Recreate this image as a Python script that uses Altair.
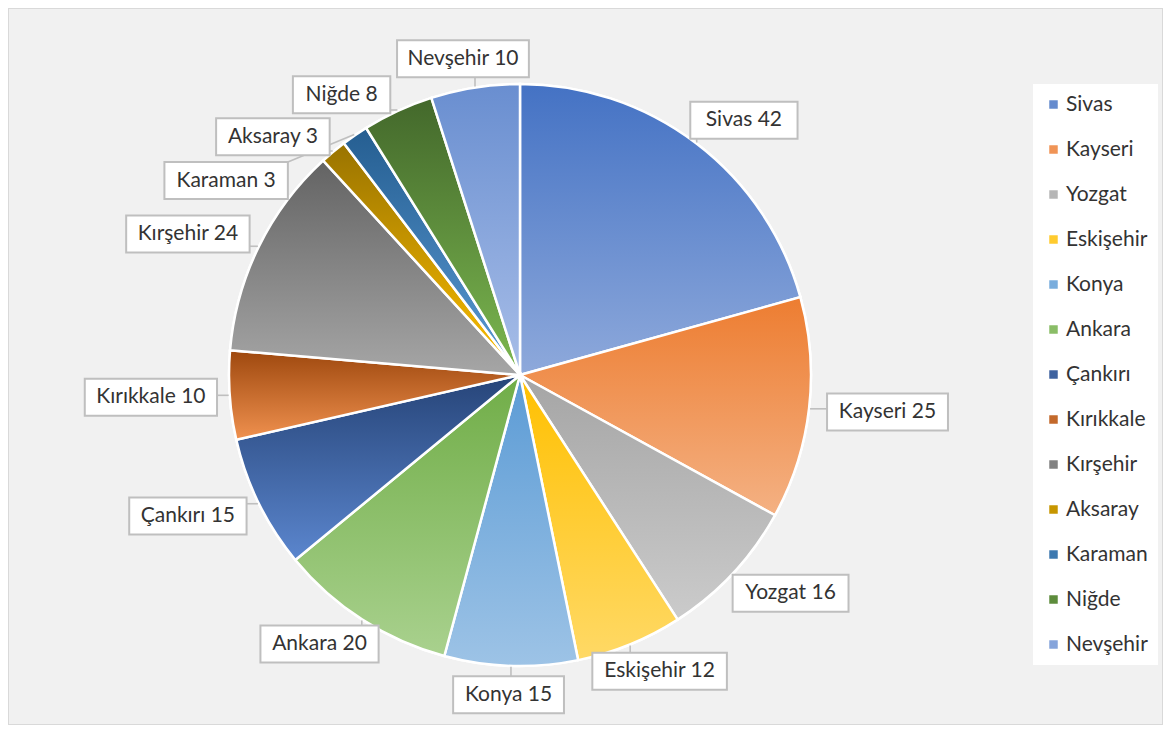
import math
import altair as alt
import pandas as pd

# ---------------- data ----------------
cities = ["Sivas", "Kayseri", "Yozgat", "Eskişehir", "Konya", "Ankara", "Çankırı",
          "Kırıkkale", "Kırşehir", "Aksaray", "Karaman", "Niğde", "Nevşehir"]
counts = [42, 25, 16, 12, 15, 20, 15, 10, 24, 3, 3, 8, 10]
label_sep = ["  ", " ", " ", " ", " ", " ", " ", " ", " ", " ", " ", "  ", " "]

# gradient colours (top -> bottom of each slice)
top_colors = ["#4472C4", "#ED7D31", "#A5A5A5", "#FFC000", "#5B9BD5", "#70AD47", "#264478",
              "#9E480E", "#636363", "#997300", "#255E91", "#43682B", "#698ED0"]
bottom_colors = ["#8EA9DB", "#F4B183", "#CBCBCB", "#FFD966", "#9DC3E6", "#A9D18E", "#5B86CE",
                 "#F0914F", "#A6A6A6", "#FFC000", "#5B9BD5", "#7CB850", "#A8BEE8"]


def mix(c1, c2, t):
    a = [int(c1[i:i + 2], 16) for i in (1, 3, 5)]
    b = [int(c2[i:i + 2], 16) for i in (1, 3, 5)]
    return "#" + "".join(f"{round(a[k] + (b[k] - a[k]) * t):02X}" for k in range(3))


legend_colors = [mix(t, b, 0.45) for t, b in zip(top_colors, bottom_colors)]

# ---------------- layout ----------------
W, H = 1155, 717          # view size
CX, CY = 512, 367         # pie centre in view pixels
R = 291                   # pie radius
RX, RY = 370, 320         # label ellipse
FONT = "Lato"
FS = 21
total = sum(counts)

xs = alt.Scale(domain=[-CX, W - CX], nice=False, zero=False)
ys = alt.Scale(domain=[-(H - CY), CY], nice=False, zero=False)


def char_w(ch):
    if ch == " ":
        return 0.22
    if ch.isdigit():
        return 0.58
    if ch in "iılj":
        return 0.24
    if ch in "rtf":
        return 0.35
    if ch in "sşz":
        return 0.41
    if ch in "yvkcçgğ":
        return 0.47
    if ch == "m":
        return 0.78
    if ch.isupper():
        return 0.63
    return 0.52


def text_w(s):
    return sum(char_w(c) for c in s) * FS


labels = [f"{c}{s}{v}" for c, s, v in zip(cities, label_sep, counts)]

# mid angles (degrees clockwise from 12 o'clock)
mids = []
acc = 0
for v in counts:
    mids.append((acc + v / 2) / total * 360)
    acc += v

placed = {}
MARGIN = 5
BH = 37


def box_at(i, a):
    rad = math.radians(a)
    x = math.sin(rad) * RX
    y = math.cos(rad) * RY
    bw = text_w(labels[i]) + 26
    return (x, y, x - bw / 2, x + bw / 2, y - BH / 2, y + BH / 2)


def overlaps(b):
    for o in placed.values():
        if (b[2] < o[3] + MARGIN and b[3] > o[2] - MARGIN and
                b[4] < o[5] + MARGIN and b[5] > o[4] - MARGIN):
            return True
    return False


order = sorted(range(len(cities)), key=lambda i: -counts[i])
for i in order:
    chosen = None
    for k in range(0, 60):
        for off in ([0] if k == 0 else [-k, k]):
            b = box_at(i, mids[i] + off)
            if not overlaps(b):
                chosen = b
                break
        if chosen:
            break
    placed[i] = chosen

rows = []
for i in range(len(cities)):
    x, y, x1, x2, y1, y2 = placed[i]
    rad = math.radians(mids[i])
    px = math.sin(rad) * (R + 1)
    py = math.cos(rad) * (R + 1)
    qx = min(max(px, x1), x2)
    qy = min(max(py, y1), y2)
    rows.append(dict(label=labels[i], lx=x, ly=y, bx1=x1, bx2=x2, by1=y1, by2=y2,
                     px=px, py=py, qx=qx, qy=qy))
lab_df = pd.DataFrame(rows)

pie_df = pd.DataFrame({"city": cities, "value": counts, "idx": list(range(len(cities)))})

base = alt.Chart(pie_df).transform_window(
    end="sum(value)", sort=[alt.SortField("idx", order="ascending")], frame=[None, 0]
).transform_calculate(start="datum.end - datum.value", cx="0", cy="0")

theta = alt.Theta("start:Q", scale=alt.Scale(domain=[0, total], range=[0, 2 * math.pi]))
theta2 = alt.Theta2("end")
xc = alt.X("cx:Q", scale=xs, axis=None)
yc = alt.Y("cy:Q", scale=ys, axis=None)

solid = base.mark_arc(radius=R, stroke="white", strokeWidth=2.5).encode(
    theta=theta, theta2=theta2, x=xc, y=yc,
    color=alt.Color("city:N", scale=alt.Scale(domain=cities, range=legend_colors),
                    legend=alt.Legend(title=None, orient="none", legendX=1025, legendY=76,
                                      padding=10, fillColor="white", strokeColor=None,
                                      symbolType="square", symbolSize=72,
                                      symbolStrokeWidth=0, labelFont=FONT,
                                      labelFontSize=FS, labelColor="#333333",
                                      labelOffset=2, rowPadding=23, labelLimit=200)),
)

grad_layers = []
for i in range(len(cities)):
    grad = {"gradient": "linear", "x1": 0, "y1": 0, "x2": 0, "y2": 1,
            "stops": [{"offset": 0, "color": top_colors[i]},
                      {"offset": 1, "color": bottom_colors[i]}]}
    grad_layers.append(
        base.transform_filter(alt.datum.idx == i).mark_arc(
            radius=R, fill=grad, stroke="white", strokeWidth=2.5
        ).encode(theta=theta, theta2=theta2, x=xc, y=yc)
    )

lab = alt.Chart(lab_df)
leader = lab.mark_rule(color="#BFBFBF", strokeWidth=1.6).encode(
    x=alt.X("px:Q", scale=xs, axis=None), y=alt.Y("py:Q", scale=ys, axis=None),
    x2="qx:Q", y2="qy:Q")
boxes = lab.mark_rect(fill="white", stroke="#BFBFBF", strokeWidth=2).encode(
    x=alt.X("bx1:Q", scale=xs, axis=None), x2="bx2:Q",
    y=alt.Y("by1:Q", scale=ys, axis=None), y2="by2:Q")
texts = lab.mark_text(font=FONT, fontSize=FS, color="#333333", align="center",
                      baseline="middle").encode(
    x=alt.X("lx:Q", scale=xs, axis=None), y=alt.Y("ly:Q", scale=ys, axis=None),
    text="label:N")

chart = alt.layer(solid, *grad_layers, leader, boxes, texts).properties(
    width=W, height=H, padding=0, autosize="none", background="white"
).configure_view(fill="#F1F1F1", stroke="#D9D9D9", strokeWidth=2)

chart.save("out.html", embed_options={"renderer": "svg", "actions": False})
